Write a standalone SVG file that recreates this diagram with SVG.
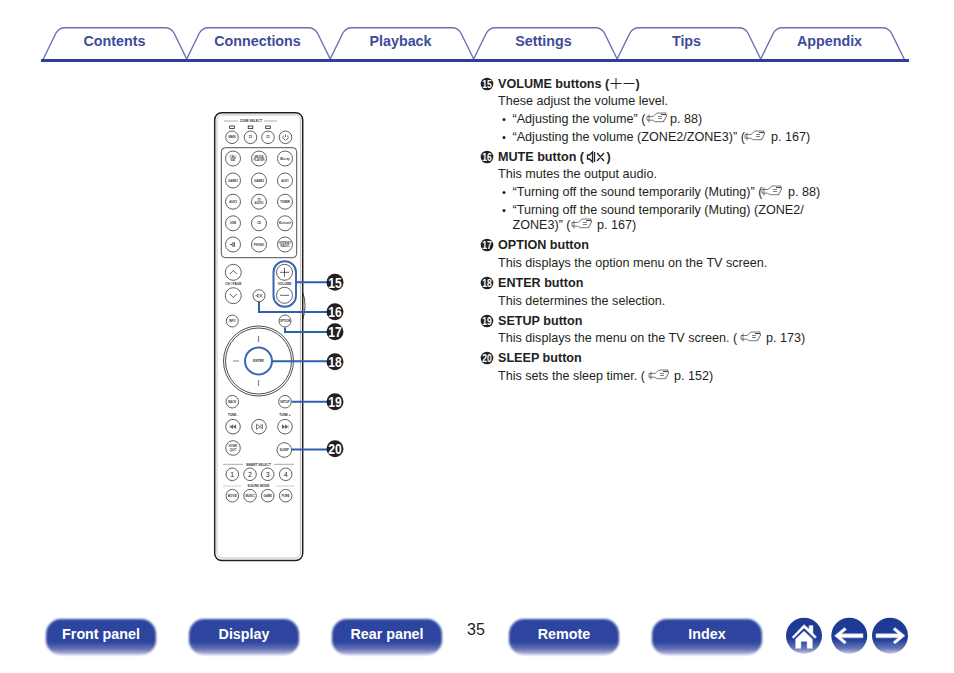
<svg xmlns="http://www.w3.org/2000/svg" width="954" height="673" viewBox="0 0 954 673">
<style>
text{font-family:"Liberation Sans",Arial,sans-serif}
.tab{fill:#fff;stroke:#6b6eb6;stroke-width:1.4}
.tabt{font-size:14.300px;font-weight:bold;fill:#3f4b9b;text-anchor:middle}
.navt{font-size:14.300px;font-weight:bold;fill:#fff;text-anchor:middle}
.b{font-size:12.600px;font-weight:bold;fill:#231f20}
.t{font-size:12.600px;fill:#231f20}
.btn{fill:#fff;stroke:#3a3839;stroke-width:.8}
.k{font-size:2.800px;fill:#333;text-anchor:middle;font-weight:bold}
.k2{font-size:2.800px;fill:#444;text-anchor:middle;font-weight:bold}
.kl{font-size:3.200px;fill:#333;text-anchor:middle;font-weight:bold}
.ln{stroke:#555;stroke-width:.5;fill:none}
.hi{fill:none;stroke:#3b68b4;stroke-width:2}
.con{fill:none;stroke:#2f5fae;stroke-width:2}
.nb{fill:#231f20}
.nt{fill:#fff;font-weight:bold;text-anchor:middle;font-size:14.500px}
.ns{fill:#fff;font-weight:bold;text-anchor:middle;font-size:10.500px}
.hand{fill:none;stroke:#231f20;stroke-width:.6}
</style>
<defs>
<linearGradient id="g" x1="0" y1="0" x2="0" y2="1">
<stop offset="0" stop-color="#2d45a0"/><stop offset=".65" stop-color="#2d45a0"/><stop offset=".85" stop-color="#6b78b8"/><stop offset="1" stop-color="#c6c9e6"/>
</linearGradient>
<linearGradient id="gc" x1="0" y1="0" x2="0" y2="1">
<stop offset="0" stop-color="#1c3a94"/><stop offset=".6" stop-color="#1f3d97"/><stop offset=".85" stop-color="#6674b6"/><stop offset="1" stop-color="#c4c8e6"/>
</linearGradient>
<filter id="soft" x="-5%" y="-10%" width="110%" height="120%"><feGaussianBlur stdDeviation="1.100"/></filter>
<g id="hand" class="hand"><path d="M0 -2h6l4 -3.500h9v1.500h-5l5.500 .3v2l-1.300 .6v2l-1.300 .6v1.700h-8.500l-3 -1.500h-5.400z"/><path d="M2 -4v8M11 -2h4M11 0h4"/></g>
<rect id="pill" width="110" height="36" rx="15" fill="url(#g)"/>
</defs>

<g id="tabs">
<path class="tab" d="M43.300 59L56 33Q59 27.700 65 27.700H165Q171 27.700 174 33L186.700 59"/>
<path class="tab" d="M186.700 59L199.400 33Q202.400 27.700 208.400 27.700H308.400Q314.400 27.700 317.400 33L330.200 59"/>
<path class="tab" d="M330.200 59L342.900 33Q345.900 27.700 351.900 27.700H451.900Q457.900 27.700 460.900 33L473.700 59"/>
<path class="tab" d="M473.700 59L486.400 33Q489.400 27.700 495.400 27.700H595.400Q601.400 27.700 604.400 33L617.200 59"/>
<path class="tab" d="M617.200 59L629.900 33Q632.900 27.700 638.900 27.700H738.900Q744.900 27.700 747.900 33L760.700 59"/>
<path class="tab" d="M760.700 59L773.400 33Q776.400 27.700 782.400 27.700H882.400Q888.400 27.700 891.400 33L904.200 59"/>
<rect x="41" y="59" width="868" height="3" fill="#2a3f96"/>
<text class="tabt" x="114.500" y="46">Contents</text>
<text class="tabt" x="257.500" y="46">Connections</text>
<text class="tabt" x="400.500" y="46">Playback</text>
<text class="tabt" x="543.500" y="46">Settings</text>
<text class="tabt" x="686.500" y="46">Tips</text>
<text class="tabt" x="829.500" y="46">Appendix</text>
</g>

<g id="remote">
<rect x="214.700" y="112.700" width="88" height="447.800" rx="7" fill="#fff" stroke="#231f20" stroke-width="1.500"/>
<rect x="217" y="115" width="83.500" height="443" rx="5" fill="none" stroke="#999" stroke-width=".6"/>
<path class="ln" d="M224 121h14M264 121h13"/>
<text class="kl" x="251" y="122.200">ZONE SELECT</text>
<g fill="none" stroke="#231f20" stroke-width=".8"><rect x="229.700" y="126" width="4.600" height="2.400"/><rect x="248.200" y="126" width="4.600" height="2.400"/><rect x="265.700" y="126" width="4.600" height="2.400"/></g>
<g id="btn-zone">
<circle class="btn" cx="232" cy="137.300" r="6.300"/><text class="k" x="232" y="138.300">MAIN</text>
<circle class="btn" cx="250.500" cy="137.300" r="6.300"/><text class="k" x="250.500" y="138.300">Z2</text>
<circle class="btn" cx="268" cy="137.300" r="6.300"/><text class="k" x="268" y="138.300">Z3</text>
<circle class="btn" cx="285.500" cy="137.300" r="6.300"/><path d="M285.500 134.500v2.500M283.600 135.500a2.600 2.600 0 1 0 3.800 0" fill="none" stroke="#231f20" stroke-width=".6"/>
</g>
<rect x="221.300" y="147.700" width="75.400" height="110" rx="4" fill="none" stroke="#231f20" stroke-width=".8"/>
<g id="btn-source">
<circle class="btn" cx="233" cy="158.500" r="7.500"/><text class="k2" x="233" y="157.800">CBL/</text><text class="k2" x="233" y="161">SAT</text>
<circle class="btn" cx="259" cy="158.500" r="7.500"/><text class="k2" x="259" y="157.800">MEDIA</text><text class="k2" x="259" y="161">PLAYER</text>
<circle class="btn" cx="285" cy="158.500" r="7.500"/><text class="k" x="285" y="159.500">Blu-ray</text>
<circle class="btn" cx="233" cy="180.500" r="7.500"/><text class="k" x="233" y="181.500">GAME1</text>
<circle class="btn" cx="259" cy="180.500" r="7.500"/><text class="k" x="259" y="181.500">GAME2</text>
<circle class="btn" cx="285" cy="180.500" r="7.500"/><text class="k" x="285" y="181.500">AUX1</text>
<circle class="btn" cx="233" cy="201.700" r="7.500"/><text class="k" x="233" y="202.700">AUX2</text>
<circle class="btn" cx="259" cy="201.700" r="7.500"/><text class="k2" x="259" y="200.800">TV</text><text class="k2" x="259" y="204">AUDIO</text>
<circle class="btn" cx="285" cy="201.700" r="7.500"/><text class="k" x="285" y="202.700">TUNER</text>
<circle class="btn" cx="233" cy="223.300" r="7.500"/><text class="k" x="233" y="224.300">USB</text>
<circle class="btn" cx="259" cy="223.300" r="7.500"/><text class="k" x="259" y="224.300">CD</text>
<circle class="btn" cx="285" cy="223.300" r="7.500"/><text class="k2" x="285" y="224.200" textLength="12" lengthAdjust="spacingAndGlyphs">Bluetooth</text>
<circle class="btn" cx="233" cy="244.500" r="7.500"/><path d="M230 244.500h1.500l1.500-2v4l-1.500-2M234.500 242v5" fill="none" stroke="#231f20" stroke-width=".7"/>
<circle class="btn" cx="259" cy="244.500" r="7.500"/><text class="k" x="259" y="245.500">PHONO</text>
<circle class="btn" cx="285" cy="244.500" r="7.500"/><text class="k2" x="285" y="243.800" textLength="12" lengthAdjust="spacingAndGlyphs">INTERNET</text><text class="k2" x="285" y="247">RADIO</text>
</g>
<g id="btn-nav">
<circle class="btn" cx="233.300" cy="272.300" r="8"/><path d="M229.800 274l3.500-3.500 3.500 3.500" fill="none" stroke="#231f20" stroke-width=".7"/>
<text class="kl" x="233.300" y="285">CH / PAGE</text>
<circle class="btn" cx="233.300" cy="295.700" r="8"/><path d="M229.800 294l3.500 3.500 3.500-3.500" fill="none" stroke="#231f20" stroke-width=".7"/>
<circle class="btn" cx="284.500" cy="272.300" r="8"/><path d="M280 272.300h9M284.500 267.800v9" stroke="#231f20" stroke-width=".7"/>
<text class="kl" x="284.500" y="285">VOLUME</text>
<circle class="btn" cx="284.500" cy="295.300" r="8"/><path d="M280 295.300h9" stroke="#231f20" stroke-width=".7"/>
<circle class="btn" cx="259" cy="295.700" r="6"/><path d="M255.500 295.700h1.200l1.500-1.800v3.600l-1.500-1.800M259.500 294l3 3.400M262.500 294l-3 3.400" fill="none" stroke="#231f20" stroke-width=".6"/>
<circle class="btn" cx="232.300" cy="321" r="6"/><text class="k" x="232.300" y="322">INFO</text>
<circle class="btn" cx="285" cy="321" r="6"/><text class="k" x="285" y="322">OPTION</text>
<circle cx="258.500" cy="361" r="35" fill="#fff" stroke="#231f20" stroke-width=".8"/>
<circle cx="258.500" cy="361" r="33" fill="#fff" stroke="#231f20" stroke-width=".8"/>
<path d="M258.500 336v6M258.500 380v6M233 361h6" stroke="#888" stroke-width="1.200"/>
<circle cx="258.500" cy="361" r="13.500" fill="#fff"/>
<text class="kl" x="258.500" y="362.200">ENTER</text>
<circle class="btn" cx="232.300" cy="401.700" r="6.300"/><text class="k" x="232.300" y="402.700">BACK</text>
<circle class="btn" cx="285" cy="401.700" r="6.300"/><text class="k" x="285" y="402.700">SETUP</text>
</g>
<g id="btn-tune">
<text class="kl" x="233" y="416">TUNE -</text><text class="kl" x="285" y="416">TUNE +</text>
<circle class="btn" cx="233" cy="426.700" r="7.300"/><path d="M229.800 424.700v4M235.800 424.700l-2.500 2 2.500 2zM232.800 424.700l-2.500 2 2.500 2z" fill="#555" stroke="#333" stroke-width=".3"/>
<circle class="btn" cx="259" cy="426.700" r="7.300"/><path d="M256.500 424.200l3.500 2.500-3.500 2.500zM261 424.200v5M262.500 424.200v5" fill="none" stroke="#231f20" stroke-width=".6"/>
<circle class="btn" cx="285" cy="426.700" r="7.300"/><path d="M288.200 424.700v4M282.200 424.700l2.500 2-2.500 2zM285.200 424.700l2.500 2-2.500 2z" fill="#555" stroke="#333" stroke-width=".3"/>
<circle class="btn" cx="233" cy="448" r="7.300"/><text class="k2" x="233" y="447.300">HOME</text><text class="k2" x="233" y="450.500">QUIT</text>
<circle class="btn" cx="284.300" cy="450" r="7.300"/><text class="k" x="284.300" y="451">SLEEP</text>
</g>
<g id="btn-smart">
<path class="ln" d="M223 464.300h20M274 464.300h20"/><text class="kl" x="258.500" y="465.500">SMART SELECT</text>
<circle class="btn" cx="232.300" cy="474.300" r="6.300"/><circle class="btn" cx="250" cy="474.300" r="6.300"/><circle class="btn" cx="267.700" cy="474.300" r="6.300"/><circle class="btn" cx="285.700" cy="474.300" r="6.300"/>
<g style="font-size:7px;fill:#231f20;text-anchor:middle"><text x="232.300" y="476.800">1</text><text x="250" y="476.800">2</text><text x="267.700" y="476.800">3</text><text x="285.700" y="476.800">4</text></g>
<path d="M223 486h18M276 486h18" stroke="#999" stroke-width=".5"/><text class="kl" x="258.500" y="487.200">SOUND MODE</text>
<circle class="btn" cx="232.300" cy="495.700" r="6.300"/><text class="k" x="232.300" y="496.700">MOVIE</text>
<circle class="btn" cx="250" cy="495.700" r="6.300"/><text class="k" x="250" y="496.700">MUSIC</text>
<circle class="btn" cx="267.700" cy="495.700" r="6.300"/><text class="k" x="267.700" y="496.700">GAME</text>
<circle class="btn" cx="285.700" cy="495.700" r="6.300"/><text class="k" x="285.700" y="496.700">PURE</text>
</g>
<path d="M303 293q4 12 0 26" fill="none" stroke="#231f20" stroke-width=".8"/>
</g>

<g id="connectors">
<rect class="hi" x="273.500" y="261.200" width="22.500" height="45.500" rx="11"/>
<circle class="hi" cx="258.500" cy="361" r="13.500"/>
<path class="con" d="M296 282.300H335"/>
<path class="con" d="M259 302V312H335"/>
<path class="con" d="M285 327.500V332H335"/>
<path class="con" d="M272 361.300H335"/>
<path class="con" d="M291.500 401.700H335"/>
<path class="con" d="M291.500 449.500H335"/>
</g>

<g id="callout-15"><circle class="nb" cx="335" cy="282.300" r="8.500"/><text class="nt" x="335" y="287.500" textLength="13.500" lengthAdjust="spacingAndGlyphs">15</text></g>
<g id="callout-16"><circle class="nb" cx="335" cy="311.700" r="8.500"/><text class="nt" x="335" y="316.900" textLength="13.500" lengthAdjust="spacingAndGlyphs">16</text></g>
<g id="callout-17"><circle class="nb" cx="335" cy="331.700" r="8.500"/><text class="nt" x="335" y="336.900" textLength="13.500" lengthAdjust="spacingAndGlyphs">17</text></g>
<g id="callout-18"><circle class="nb" cx="335" cy="361.700" r="8.500"/><text class="nt" x="335" y="366.900" textLength="13.500" lengthAdjust="spacingAndGlyphs">18</text></g>
<g id="callout-19"><circle class="nb" cx="335" cy="401.700" r="8.500"/><text class="nt" x="335" y="406.900" textLength="13.500" lengthAdjust="spacingAndGlyphs">19</text></g>
<g id="callout-20"><circle class="nb" cx="335" cy="448.800" r="8.500"/><text class="nt" x="335" y="454" textLength="13.500" lengthAdjust="spacingAndGlyphs">20</text></g>

<g id="descriptions">
<circle class="nb" cx="487" cy="84" r="6.300"/><text class="ns" x="487" y="87.800" textLength="9.500" lengthAdjust="spacingAndGlyphs">15</text>
<text class="b" x="498" y="88">VOLUME buttons (</text><path d="M610.500 83.500h11M616 78v11M623.500 83.500h11" stroke="#231f20" stroke-width="1" fill="none"/><text class="b" x="635.500" y="88">)</text>
<text class="t" x="498" y="105">These adjust the volume level.</text>
<circle class="nb" cx="504" cy="119.500" r="1.500"/><text class="t" x="512.500" y="123">“Adjusting the volume” (</text><use href="#hand" x="647" y="118.500"/><text class="t" x="670" y="123">p. 88)</text>
<circle class="nb" cx="504" cy="137.500" r="1.500"/><text class="t" x="512.500" y="141">“Adjusting the volume (ZONE2/ZONE3)” (</text><use href="#hand" x="745" y="136.500"/><text class="t" x="771" y="141">p. 167)</text>
<circle class="nb" cx="487" cy="157" r="6.300"/><text class="ns" x="487" y="160.800" textLength="9.500" lengthAdjust="spacingAndGlyphs">16</text>
<text class="b" x="498" y="161">MUTE button (</text><path d="M587.500 155h2l3-3v10l-3-3h-2zM594.500 152v10M597 153l7 8M604 153l-7 8" fill="none" stroke="#231f20" stroke-width="1.300"/><text class="b" x="606.500" y="161">)</text>
<text class="t" x="498" y="178">This mutes the output audio.</text>
<circle class="nb" cx="504" cy="192.500" r="1.500"/><text class="t" x="512.500" y="196">“Turning off the sound temporarily (Muting)” (</text><use href="#hand" x="762" y="191.500"/><text class="t" x="788" y="196">p. 88)</text>
<circle class="nb" cx="504" cy="210.500" r="1.500"/><text class="t" x="512.500" y="214">“Turning off the sound temporarily (Muting) (ZONE2/</text>
<text class="t" x="512.500" y="229">ZONE3)” (</text><use href="#hand" x="572" y="224.500"/><text class="t" x="597" y="229">p. 167)</text>
<circle class="nb" cx="487" cy="245" r="6.300"/><text class="ns" x="487" y="248.800" textLength="9.500" lengthAdjust="spacingAndGlyphs">17</text>
<text class="b" x="498" y="249">OPTION button</text>
<text class="t" x="498" y="267">This displays the option menu on the TV screen.</text>
<circle class="nb" cx="487" cy="283" r="6.300"/><text class="ns" x="487" y="286.800" textLength="9.500" lengthAdjust="spacingAndGlyphs">18</text>
<text class="b" x="498" y="287">ENTER button</text>
<text class="t" x="498" y="305">This determines the selection.</text>
<circle class="nb" cx="487" cy="321" r="6.300"/><text class="ns" x="487" y="324.800" textLength="9.500" lengthAdjust="spacingAndGlyphs">19</text>
<text class="b" x="498" y="325">SETUP button</text>
<text class="t" x="498" y="342">This displays the menu on the TV screen.  (</text><use href="#hand" x="741" y="337.500"/><text class="t" x="766" y="342">p. 173)</text>
<circle class="nb" cx="487" cy="358" r="6.300"/><text class="ns" x="487" y="361.800" textLength="9.500" lengthAdjust="spacingAndGlyphs">20</text>
<text class="b" x="498" y="362">SLEEP button</text>
<text class="t" x="498" y="380">This sets the sleep timer.  (</text><use href="#hand" x="649" y="375.500"/><text class="t" x="674" y="380">p. 152)</text>
</g>

<g id="bottom-nav">
<g id="nav-front"><use href="#pill" x="46" y="619" filter="url(#soft)"/><text class="navt" x="101" y="639">Front panel</text></g>
<g id="nav-display"><use href="#pill" x="189" y="619" filter="url(#soft)"/><text class="navt" x="244" y="639">Display</text></g>
<g id="nav-rear"><use href="#pill" x="332" y="619" filter="url(#soft)"/><text class="navt" x="387" y="639">Rear panel</text></g>
<g id="nav-remote"><use href="#pill" x="509" y="619" filter="url(#soft)"/><text class="navt" x="564" y="639">Remote</text></g>
<g id="nav-index"><use href="#pill" x="652" y="619" filter="url(#soft)"/><text class="navt" x="707" y="639">Index</text></g>
<text x="476" y="635" style="font-size:16px;fill:#231f20;text-anchor:middle">35</text>
<g id="nav-home"><circle cx="804" cy="635.700" r="18" fill="url(#gc)"/><path d="M792 637L804 624.500L809 629V625.500H813V633L816.500 637L815 638.500L804 628L793.500 638.500ZM795.500 639L804 631L812.500 639V648.500H807V641.500H801V648.500H795.500Z" fill="#fff" stroke="#b9bde0" stroke-width=".5"/></g>
<g id="nav-back"><circle cx="849.300" cy="635.700" r="18" fill="url(#gc)"/><path d="M834.500 635.700L844.500 627.500L846.500 629.500L841.500 633.800H863V637.800H841.500L846.500 642L844.500 644Z" fill="#fff" stroke="#b9bde0" stroke-width=".6"/></g>
<g id="nav-forward"><circle cx="890" cy="635.700" r="18" fill="url(#gc)"/><path d="M905 635.700L895 627.500L893 629.500L898 633.800H876V637.800H898L893 642L895 644Z" fill="#fff" stroke="#b9bde0" stroke-width=".6"/></g>
</g>
</svg>
